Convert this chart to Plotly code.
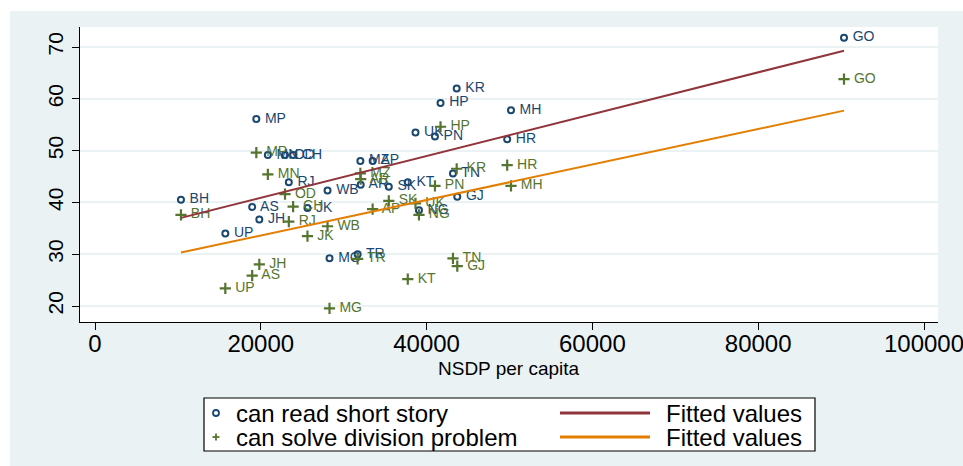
import numpy as np
import plotly.graph_objects as go

# State codes and NSDP per capita (Rs.)
states = ["GO", "KR", "HP", "MH", "MP", "UK", "PN", "HR", "TN", "KT", "MZ", "AP", "AR", "SK",
          "NG", "GJ", "MN", "OD", "CH", "RJ", "WB", "JK", "AS", "BH", "JH", "UP", "MG", "TR"]
nsdp = [90350, 43630, 41680, 50180, 19460, 38660, 41010, 49720, 43180, 37730, 32010, 33490, 32050, 35440,
        39080, 43700, 20850, 22920, 23900, 23380, 28050, 25630, 18960, 10370, 19820, 15720, 28290, 31680]
# % of children who can read a short story
read_story = [71.8, 62.0, 59.2, 57.8, 56.1, 53.5, 52.7, 52.2, 45.6, 43.9, 48.0, 48.0, 43.4, 43.0,
              38.5, 41.1, 49.15, 49.15, 49.15, 43.9, 42.3, 38.9, 39.1, 40.5, 36.7, 34.0, 29.2, 30.0]
# % of children who can solve a division problem
solve_div = [63.8, 46.5, 54.6, 43.2, 49.6, 39.8, 43.2, 47.2, 29.2, 25.2, 45.6, 38.7, 44.5, 40.3,
             37.6, 27.7, 45.4, 41.6, 39.2, 36.3, 35.4, 33.5, 25.85, 37.6, 28.05, 23.4, 19.55, 29.1]

x_ticks = [0, 20000, 40000, 60000, 80000, 100000]
y_ticks = [20, 30, 40, 50, 60, 70]

NAVY = "#1A476F"
MAROON = "#90353B"
GREEN = "#55752F"
ORANGE = "#E37E00"
BG = "#EAF2F3"
FONT = "Liberation Sans, Arial, sans-serif"

W, H = 963, 466
L, R, T, B = 80, 938, 27, 322  # plot area in pixels


def px_x(px):
    return (px - L) / (R - L)


def px_y(py):
    return (B - py) / (B - T)


x = np.array(nsdp, dtype=float)
xs = np.array([x.min(), x.max()])
fit_read = np.polyval(np.polyfit(x, read_story, 1), xs)
fit_div = np.polyval(np.polyfit(x, solve_div, 1), xs)

fig = go.Figure()
fig.add_trace(go.Scatter(
    x=nsdp, y=read_story, mode="markers+text", text=[" " + s for s in states],
    textposition="middle right", textfont=dict(family=FONT, size=14, color=NAVY),
    marker=dict(symbol="circle-open", size=6, color=NAVY, line=dict(width=2, color=NAVY)),
    cliponaxis=False, showlegend=False))
fig.add_trace(go.Scatter(
    x=nsdp, y=solve_div, mode="markers+text", text=[" " + s for s in states],
    textposition="middle right", textfont=dict(family=FONT, size=14, color=GREEN),
    marker=dict(symbol="cross-thin", size=8, color=GREEN, line=dict(width=2.2, color=GREEN)),
    cliponaxis=False, showlegend=False))
fig.add_trace(go.Scatter(x=xs, y=fit_read, mode="lines", line=dict(color=MAROON, width=2),
                         showlegend=False))
fig.add_trace(go.Scatter(x=xs, y=fit_div, mode="lines", line=dict(color=ORANGE, width=2),
                         showlegend=False))

shapes = [
    # white strips around the graph region
    dict(type="rect", xref="paper", yref="paper", x0=px_x(0), x1=px_x(W), y0=px_y(11), y1=px_y(0),
         fillcolor="white", line=dict(width=0), layer="below"),
    dict(type="rect", xref="paper", yref="paper", x0=px_x(0), x1=px_x(10), y0=px_y(H), y1=px_y(0),
         fillcolor="white", line=dict(width=0), layer="below"),
    # legend box
    dict(type="rect", xref="paper", yref="paper", x0=px_x(204), x1=px_x(815), y0=px_y(451), y1=px_y(398),
         fillcolor="white", line=dict(width=1.2, color="black")),
    # legend line samples
    dict(type="line", xref="paper", yref="paper", x0=px_x(560), x1=px_x(650), y0=px_y(413), y1=px_y(413),
         line=dict(color=MAROON, width=3)),
    dict(type="line", xref="paper", yref="paper", x0=px_x(560), x1=px_x(650), y0=px_y(437), y1=px_y(437),
         line=dict(color=ORANGE, width=3)),
    # legend marker: hollow circle
    dict(type="circle", xref="paper", yref="paper", x0=px_x(213), x1=px_x(219), y0=px_y(416), y1=px_y(410),
         line=dict(color=NAVY, width=1.8)),
    # legend marker: plus
    dict(type="line", xref="paper", yref="paper", x0=px_x(212.5), x1=px_x(219.5), y0=px_y(437), y1=px_y(437),
         line=dict(color=GREEN, width=1.8)),
    dict(type="line", xref="paper", yref="paper", x0=px_x(216), x1=px_x(216), y0=px_y(433.5), y1=px_y(440.5),
         line=dict(color=GREEN, width=1.8)),
]

annotations = [
    dict(text="NSDP per capita", xref="paper", yref="paper", x=px_x(509), y=px_y(368),
         showarrow=False, font=dict(family=FONT, size=19, color="black"), xanchor="center", yanchor="middle"),
    dict(text="can read short story", xref="paper", yref="paper", x=px_x(234), y=px_y(413),
         showarrow=False, font=dict(family=FONT, size=24, color="black"), xanchor="left", yanchor="middle"),
    dict(text="can solve division problem", xref="paper", yref="paper", x=px_x(234), y=px_y(437),
         showarrow=False, font=dict(family=FONT, size=24, color="black"), xanchor="left", yanchor="middle"),
    dict(text="Fitted values", xref="paper", yref="paper", x=px_x(664), y=px_y(413),
         showarrow=False, font=dict(family=FONT, size=24, color="black"), xanchor="left", yanchor="middle"),
    dict(text="Fitted values", xref="paper", yref="paper", x=px_x(664), y=px_y(437),
         showarrow=False, font=dict(family=FONT, size=24, color="black"), xanchor="left", yanchor="middle"),
]

x_lo = (L - 95) / 0.00829
x_hi = (R - 95) / 0.00829
y_hi = 70 + (47 - T) / 5.18
y_lo = 70 - (B - 47) / 5.18

fig.update_layout(
    width=W, height=H,
    margin=dict(l=L, r=W - R, t=T, b=H - B, autoexpand=False),
    paper_bgcolor=BG, plot_bgcolor="white",
    font=dict(family=FONT, color="black"),
    shapes=shapes, annotations=annotations,
    xaxis=dict(range=[x_lo, x_hi], tickvals=x_ticks, ticktext=[str(v) for v in x_ticks],
               showgrid=False, zeroline=False, showline=True, linecolor="black", linewidth=1.3,
               ticks="outside", ticklen=7, tickwidth=1.3, tickcolor="black", automargin=False,
               ticklabeloverflow="allow", ticklabelstandoff=-7,
               tickfont=dict(family=FONT, size=24, color="black")),
    yaxis=dict(range=[y_lo, y_hi], tickvals=y_ticks, ticktext=[str(v) for v in y_ticks],
               showgrid=True, gridcolor=BG, gridwidth=2, zeroline=False,
               showline=True, linecolor="black", linewidth=1.3, automargin=False,
               ticks="outside", ticklen=7, tickwidth=1.3, tickcolor="black", tickangle=-90,
               tickfont=dict(family=FONT, size=21, color="black")),
)

fig.write_html("out.html")
